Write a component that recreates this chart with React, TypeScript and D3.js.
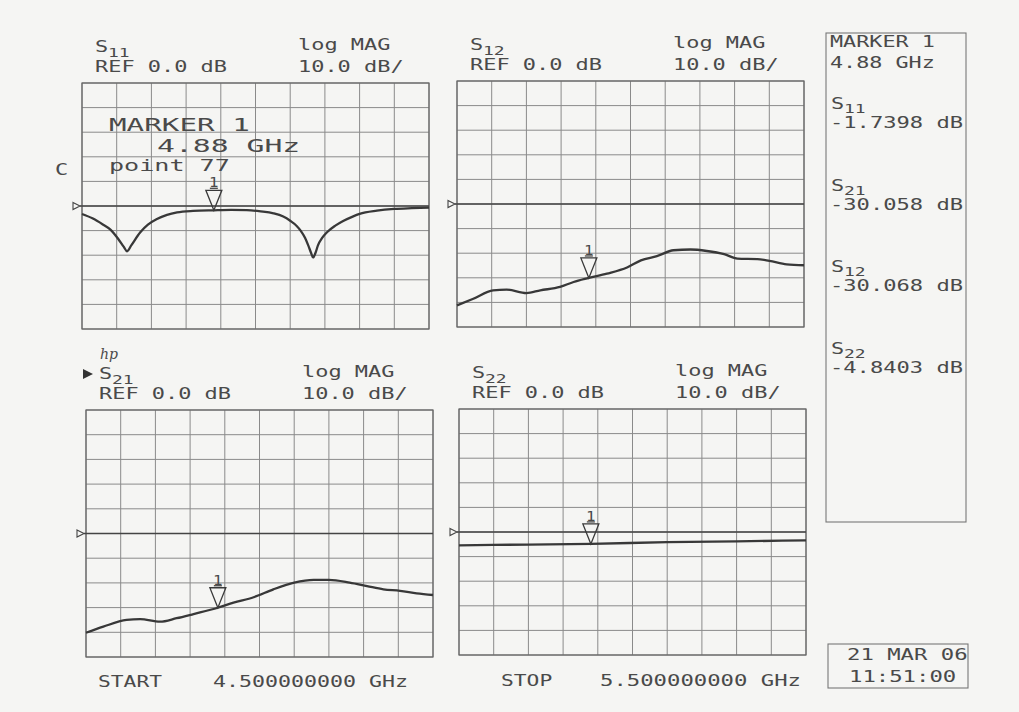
import React from 'react';
import * as d3 from 'd3';

// ---------- data ----------
const START_GHZ = 4.5;
const STOP_GHZ = 5.5;
const REF_DB = 0;
const SCALE_DB = 10;
const DIVISIONS = 10;
const MARKER_GHZ = 4.88;
const MARKER_POINT = 77;

const S11_GHZ = [4.5, 4.53, 4.56, 4.582, 4.605, 4.62, 4.63, 4.642, 4.668, 4.69, 4.716, 4.745, 4.774, 4.82, 4.88, 4.93, 4.975, 5.015, 5.052, 5.08, 5.1, 5.118, 5.13, 5.143, 5.152, 5.16, 5.166, 5.173, 5.18, 5.192, 5.206, 5.23, 5.254, 5.28, 5.3, 5.35, 5.4, 5.45, 5.5];
const S11_DB = [-3.25, -5.0, -7.5, -9.6, -13.5, -16.5, -18.4, -16.0, -10.7, -7.6, -5.3, -3.6, -2.6, -2.0, -1.74, -1.6, -1.7, -2.2, -3.0, -4.3, -6.0, -8.0, -10.0, -13.0, -16.0, -19.0, -20.9, -19.0, -16.0, -13.0, -10.7, -8.0, -6.0, -4.3, -3.2, -1.9, -1.2, -0.9, -0.7];

const S12_GHZ = [4.5, 4.547, 4.604, 4.643, 4.7, 4.74, 4.797, 4.836, 4.88, 4.932, 4.99, 5.03, 5.076, 5.124, 5.173, 5.22, 5.27, 5.308, 5.366, 5.4, 5.45, 5.5];
const S12_DB = [-41.2, -38.5, -35.1, -34.8, -36.2, -35.1, -33.7, -31.7, -30.07, -28.3, -25.8, -22.9, -21.2, -18.8, -18.5, -19.1, -20.4, -22.2, -22.4, -23.1, -24.5, -24.9];

const S21_GHZ = [4.5, 4.55, 4.617, 4.656, 4.713, 4.761, 4.81, 4.88, 4.925, 4.983, 5.04, 5.1, 5.156, 5.2, 5.26, 5.31, 5.357, 5.405, 5.453, 5.5];
const S21_DB = [-40.2, -37.7, -35.0, -34.7, -35.7, -34.3, -32.6, -30.06, -28.0, -25.8, -22.6, -19.9, -18.8, -18.8, -19.9, -21.3, -22.6, -23.2, -24.2, -24.9];

const S22_GHZ = [4.5, 4.7, 4.88, 5.1, 5.3, 5.5];
const S22_DB = [-5.4, -5.1, -4.84, -4.1, -3.8, -3.4];

const READOUT_NAMES = ['11', '21', '12', '22'];
const READOUT_VALUES = ['-1.7398', '-30.058', '-30.068', '-4.8403'];
const DATE_TEXT = '21 MAR 06';
const TIME_TEXT = '11:51:00';

// ---------- layout ----------
const PANELS = [
  { id: '11', x: 82, y: 83, w: 347, h: 246 },
  { id: '12', x: 457, y: 81, w: 347, h: 246 },
  { id: '21', x: 86, y: 410, w: 347, h: 247 },
  { id: '22', x: 459, y: 409, w: 347, h: 246 },
];

const SERIES: Record<string, [number[], number[]]> = {
  '11': [S11_GHZ, S11_DB],
  '12': [S12_GHZ, S12_DB],
  '21': [S21_GHZ, S21_DB],
  '22': [S22_GHZ, S22_DB],
};

const FONT = "'DejaVu Sans Mono', 'Liberation Mono', monospace";
const INK = '#4a4a4a';
const GRID = '#8a8a8a';
const TRACE = '#383838';

function T({ x, y, s, size = 15.5, adv = 13.2, fill = INK, anchor = 'start' as any, italic = false, family = FONT }: any) {
  return (
    <text
      x={x}
      y={y}
      fontFamily={family}
      fontSize={size}
      fill={fill}
      textAnchor={anchor}
      fontStyle={italic ? 'italic' : 'normal'}
      textLength={s.length * adv}
      lengthAdjust="spacingAndGlyphs"
    >
      {s}
    </text>
  );
}

function SLabel({ x, y, sub, subDy = 5 }: any) {
  return (
    <g>
      <T x={x} y={y} s="S" />
      <T x={x + 13} y={y + subDy} s={sub} size={11.5} adv={10.8} />
    </g>
  );
}

function Panel({ p }: any) {
  const xs = d3.scaleLinear().domain([START_GHZ, STOP_GHZ]).range([p.x, p.x + p.w]);
  const half = (DIVISIONS / 2) * SCALE_DB;
  const ys = d3.scaleLinear().domain([REF_DB - half, REF_DB + half]).range([p.y + p.h, p.y]);
  const xTicks = d3.range(DIVISIONS + 1).map((i) => START_GHZ + (i * (STOP_GHZ - START_GHZ)) / DIVISIONS);
  const yTicks = d3.range(DIVISIONS + 1).map((i) => REF_DB - half + i * SCALE_DB);
  const [f, v] = SERIES[p.id];
  const pts = f.map((g, i) => [g, v[i]] as [number, number]);
  const line = d3
    .line<[number, number]>()
    .x((d) => xs(d[0]))
    .y((d) => ys(d[1]))
    .curve(d3.curveMonotoneX);
  const ri = READOUT_NAMES.indexOf(p.id);
  const mv = parseFloat(READOUT_VALUES[ri]);
  const mx = xs(MARKER_GHZ);
  const my = ys(mv);
  const ry = ys(REF_DB);
  return (
    <g>
      {xTicks.map((t, i) => (
        <line key={'v' + i} x1={xs(t)} x2={xs(t)} y1={p.y} y2={p.y + p.h} stroke={GRID} strokeWidth={1} />
      ))}
      {yTicks.map((t, i) => (
        <line key={'h' + i} x1={p.x} x2={p.x + p.w} y1={ys(t)} y2={ys(t)} stroke={GRID} strokeWidth={1} />
      ))}
      <rect x={p.x} y={p.y} width={p.w} height={p.h} fill="none" stroke="#666" strokeWidth={1.2} />
      {/* reference line and pointer */}
      <line x1={p.x - 2} x2={p.x + p.w} y1={ry} y2={ry} stroke="#444" strokeWidth={1.4} />
      <path d={`M${p.x - 9},${ry - 3.5} L${p.x - 2},${ry} L${p.x - 9},${ry + 3.5} Z`} fill="none" stroke="#444" strokeWidth={1.1} />
      {/* trace */}
      <path d={line(pts) || ''} fill="none" stroke={TRACE} strokeWidth={2.3} strokeLinejoin="round" />
      {/* marker */}
      <path d={`M${mx},${my} L${mx - 8},${my - 20} L${mx + 8},${my - 20} Z`} fill="none" stroke="#3a3a3a" strokeWidth={1.3} />
      <line x1={mx - 4} x2={mx + 4} y1={my - 22} y2={my - 22} stroke="#3a3a3a" strokeWidth={1.2} />
      <T x={mx} y={my - 23} s="1" size={14} adv={9.5} anchor="middle" />
      {/* header */}
      <SLabel x={p.x + 13} y={p.y - 31} sub={p.id} />
      <T x={p.x + 13} y={p.y - 11} s={`REF ${REF_DB.toFixed(1)} dB`} />
      <T x={p.x + 216} y={p.y - 33} s="log MAG" />
      <T x={p.x + 216} y={p.y - 11} s={`${SCALE_DB.toFixed(1)} dB/`} />
    </g>
  );
}

export default function App() {
  const tl = PANELS[0];
  const bl = PANELS[2];
  const br = PANELS[3];
  return (
    <svg width={1019} height={712} style={{ position: 'absolute', left: 0, top: 0, display: 'block' }}>
      <rect x={0} y={0} width={1019} height={712} fill="#f5f5f3" />
      {PANELS.map((p) => (
        <Panel key={p.id} p={p} />
      ))}
      {/* marker annotation in S11 panel */}
      <T x={tl.x + 27} y={tl.y + 47.5} s={`MARKER 1`} size={17.5} adv={17.6} />
      <T x={tl.x + 75} y={tl.y + 68.5} s={`${MARKER_GHZ.toFixed(2)} GHz`} size={17.5} adv={17.9} />
      <T x={tl.x + 27} y={tl.y + 88} s={`point ${MARKER_POINT}`} size={16} adv={15.1} />
      <T x={tl.x - 27} y={tl.y + 92} s="C" />
      {/* hp logo + active channel pointer */}
      <T x={bl.x + 14} y={bl.y - 51} s="hp" size={15} adv={9} italic family="'DejaVu Serif', serif" />
      <path d={`M${bl.x - 3},${bl.y - 41} L${bl.x + 7},${bl.y - 36} L${bl.x - 3},${bl.y - 31} Z`} fill="#333" />
      {/* start / stop */}
      <T x={bl.x + 12} y={687} s="START" adv={12.8} />
      <T x={bl.x + 127} y={687} s={`${START_GHZ.toFixed(9)} GHz`} adv={13.0} />
      <T x={br.x + 42} y={686} s="STOP" adv={12.8} />
      <T x={br.x + 141} y={686} s={`${STOP_GHZ.toFixed(9)} GHz`} adv={13.4} />
      {/* marker readout box */}
      <rect x={826} y={33} width={140} height={489} fill="none" stroke="#777" strokeWidth={1.1} />
      <T x={830} y={47} s="MARKER 1" adv={13.1} />
      <T x={830} y={68} s={`${MARKER_GHZ.toFixed(2)} GHz`} adv={13.1} />
      {READOUT_NAMES.map((n, i) => {
        const vy = 128 + i * 81.7;
        return (
          <g key={n}>
            <SLabel x={831} y={vy - 19} sub={n} subDy={4} />
            <T x={830} y={vy} s={`${READOUT_VALUES[i]} dB`} adv={13.3} />
          </g>
        );
      })}
      {/* date box */}
      <rect x={828} y={644} width={140} height={44} fill="none" stroke="#777" strokeWidth={1.1} />
      <T x={847} y={660} s={DATE_TEXT} adv={13.4} />
      <T x={849} y={682} s={TIME_TEXT} adv={13.4} />
    </svg>
  );
}
